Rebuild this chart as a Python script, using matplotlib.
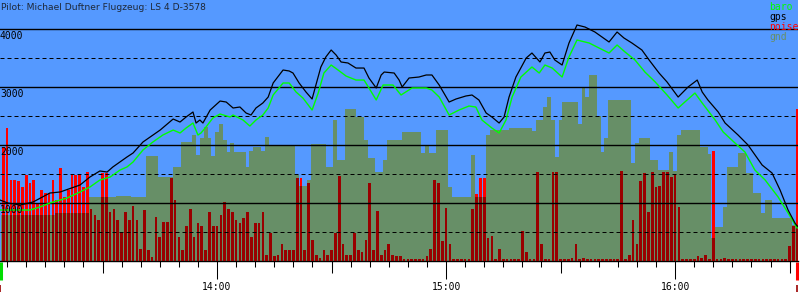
import numpy as np
import matplotlib
matplotlib.use('Agg')
import matplotlib.pyplot as plt
import matplotlib.transforms as mtransforms
from matplotlib.ticker import MultipleLocator, FuncFormatter

# time in minutes after 13:00
t_first = 3.14
t_last = 212.2

# ground height and engine noise, one value per minute from 13:04
gnd = [800, 800, 800, 800, 800, 800, 800, 800, 800, 800,
       800, 800, 800, 800, 820, 830, 830, 830, 830, 830,
       830, 830, 830, 1100, 1100, 1100, 1100, 1100, 1100, 1100,
       1120, 1120, 1120, 1120, 1100, 1100, 1100, 1100, 1810, 1810,
       1810, 1450, 1450, 1450, 1450, 1620, 1620, 2050, 2050, 2050,
       2170, 1830, 2120, 2310, 2120, 1810, 2220, 2360, 2090, 1880,
       2030, 1880, 1880, 1880, 1620, 1900, 1960, 1960, 1900, 2140,
       2000, 2000, 2000, 2000, 2000, 2000, 2000, 1480, 1300, 1300,
       1400, 2020, 2020, 2020, 2020, 1620, 1620, 2430, 1740, 1740,
       2620, 2620, 2620, 2480, 2480, 2090, 1780, 1780, 1530, 1530,
       1740, 2090, 2090, 2090, 2090, 2220, 2220, 2220, 2220, 2220,
       1860, 2000, 1860, 1860, 2260, 2260, 2260, 1280, 1100, 1100,
       1100, 1100, 1100, 1830, 1100, 1100, 1100, 2170, 2260, 2260,
       2260, 2260, 2260, 2290, 2290, 2290, 2290, 2290, 2290, 2250,
       2430, 2430, 2650, 2830, 2430, 1790, 2430, 2740, 2740, 2740,
       2740, 2370, 3000, 2830, 3210, 3210, 2500, 1880, 2120, 2780,
       2780, 2780, 2780, 2780, 2780, 1690, 2040, 2120, 2120, 2120,
       1740, 1740, 1570, 1570, 1570, 1880, 1550, 2170, 2260, 2260,
       2260, 2260, 2260, 1970, 1970, 1850, 400, 590, 590, 930,
       1620, 1620, 1620, 1860, 1860, 1520, 1520, 1170, 1170, 830,
       1050, 1050, 740, 740, 740, 740, 740, 620, 620]

noise = [1970, 2290, 1400, 1400, 1380, 1280, 1480, 1340, 1400, 1000,
         1220, 1170, 1170, 1400, 1050, 1600, 1100, 1220, 1480, 1480,
         1480, 1280, 1540, 900, 800, 700, 1520, 1520, 850, 900,
         700, 500, 850, 700, 950, 700, 200, 880, 190, 75,
         760, 420, 670, 670, 1430, 1050, 420, 190, 610, 900,
         420, 650, 610, 190, 850, 600, 610, 800, 1020, 900,
         850, 700, 650, 750, 850, 420, 650, 650, 850, 100,
         480, 80, 100, 300, 190, 190, 190, 1430, 1430, 190,
         1340, 360, 100, 50, 190, 100, 190, 480, 1460, 300,
         100, 100, 480, 190, 150, 360, 1340, 190, 860, 100,
         190, 300, 100, 80, 80, 30, 30, 30, 30, 30,
         30, 80, 200, 1400, 1350, 350, 920, 300, 30, 30,
         30, 30, 30, 900, 1150, 1430, 1430, 400, 430, 30,
         200, 30, 30, 30, 30, 30, 520, 150, 30, 30,
         1540, 300, 30, 30, 1540, 1540, 30, 30, 30, 50,
         290, 30, 60, 30, 30, 30, 30, 30, 30, 30,
         30, 30, 1560, 30, 100, 700, 290, 1380, 1520, 850,
         1540, 1270, 1300, 1540, 1540, 1440, 1480, 930, 30, 30,
         30, 30, 80, 60, 100, 30, 1900, 30, 30, 60,
         30, 30, 30, 30, 30, 30, 30, 30, 30, 30,
         30, 30, 30, 30, 30, 30, 260, 610, 2620]

gps_t = [3.1, 5.2, 8.4, 11.8, 16.2, 18.9, 24.1, 26.7, 29.3, 31.2, 32.7, 36.4, 38.0,
         40.6, 45.1, 48.5, 50.3, 51.9, 53.7, 54.5, 55.5, 56.3, 58.2, 60.8, 62.4,
         64.2, 66.0, 67.6, 68.9, 70.2, 72.0, 73.4, 74.7, 77.3, 78.9, 79.9, 81.5,
         83.3, 84.9, 85.9, 87.2, 88.5, 89.9, 91.2, 92.5, 94.3, 96.4, 98.5, 99.8,
         101.7, 103.0, 103.8, 106.4, 107.7, 108.5, 110.3, 112.9, 114.8, 116.3,
         118.2, 120.8, 122.6, 125.2, 126.8, 128.6, 130.5, 132.0, 133.9, 135.2,
         136.5, 138.3, 141.0, 142.5, 144.6, 145.9, 147.2, 148.5, 150.4, 152.2,
         154.3, 156.4, 159.0, 162.7, 164.8, 166.6, 168.7, 171.3, 173.2, 175.8,
         177.9, 180.8, 183.4, 185.8, 187.1, 188.6, 191.3, 193.1, 196.5, 199.1,
         202.8, 205.4, 207.5, 209.6, 211.4, 212.0]
gps_alt = [1052, 1000, 965, 1017, 1172, 1190, 1310, 1448, 1552, 1534, 1621, 1793, 1862,
           2052, 2258, 2448, 2396, 2483, 2569, 2379, 2431, 2379, 2603, 2758, 2741,
           2638, 2655, 2552, 2517, 2638, 2724, 2827, 3069, 3293, 3276, 3241, 3069,
           2914, 2793, 3034, 3345, 3517, 3638, 3551, 3431, 3414, 3327, 3327, 3155,
           2983, 3207, 3258, 3241, 3120, 3000, 3155, 3172, 3207, 3207,
           3034, 2741, 2793, 2845, 2862, 2776, 2552, 2483, 2379, 2483,
           2827, 3172, 3500, 3586, 3431, 3586, 3603, 3465, 3379, 3758,
           4069, 4034, 3948, 3776, 3948, 3845, 3758, 3638, 3465, 3241,
           3086, 2827, 3000, 3120, 2914, 2776, 2569, 2379, 2172, 2000,
           1655, 1517, 1224, 879, 655, 600]

baro_t = [3.1, 11.0, 13.6, 16.2, 20.7, 24.1, 26.7, 29.3, 32.0, 34.6, 36.4, 38.0,
          40.6, 43.2, 45.8, 48.5, 50.3, 51.9, 53.7, 55.0, 55.8, 57.1, 58.9, 60.8,
          63.4, 64.2, 66.8, 68.6, 70.2, 72.0, 73.4, 74.7, 77.3, 78.9, 80.7, 82.5,
          84.9, 86.5, 88.0, 89.9, 91.7, 93.8, 96.4, 98.5, 99.8, 101.7, 103.5, 106.1,
          108.2, 111.1, 114.8, 116.3, 118.2, 120.8, 123.4, 126.0, 127.8, 129.4,
          132.0, 133.9, 135.7, 137.3, 139.6, 142.5, 144.4, 145.9, 147.8, 150.4,
          152.2, 154.3, 157.5, 160.1, 162.7, 164.8, 166.9, 169.5, 172.1, 174.8,
          177.9, 180.8, 185.2, 187.1, 190.5, 192.6, 195.7, 198.3, 200.9, 203.6,
          207.0, 209.6, 212.0]
baro_alt = [879, 879, 931, 1000, 1086, 1190, 1276, 1396, 1448, 1569, 1621, 1707,
            1914, 2052, 2172, 2258, 2207, 2293, 2379, 2172, 2207, 2310, 2465, 2534,
            2483, 2517, 2431, 2327, 2431, 2517, 2638, 2862, 3069, 3069, 2914, 2810,
            2603, 2896, 3241, 3379, 3293, 3189, 3120, 3120, 2983, 2776, 3034, 3034,
            2862, 2983, 2983, 2948, 2827, 2517, 2603, 2672, 2655, 2431,
            2293, 2207, 2431, 2827, 3172, 3345, 3241, 3379, 3327, 3172,
            3517, 3810, 3758, 3672, 3586, 3724, 3603, 3465, 3258, 3086,
            2862, 2638, 2896, 2724, 2431, 2224, 2034, 1879, 1569, 1396,
            1103, 828, 569]

title = 'Pilot: Michael Duftner Flugzeug: LS 4 D-3578'
legend_names = ['baro', 'gps', 'noise', 'gnd']
legend_colors = ['#00ff00', 'black', 'red', '#678f67']

minutes = np.arange(4, 4 + len(gnd))
gnd = np.array(gnd)
noise = np.array(noise)

mono = 'DejaVu Sans Mono'
fig = plt.figure(figsize=(8, 3), dpi=100)
ax = fig.add_axes([0, 39 / 300, 798 / 800, 261 / 300])
ax.set_facecolor('#5599ff')
ax.set_xlim(t_first, t_last)
ax.set_ylim(0, 4500)

ax.bar(minutes, gnd, width=1.02, color='#678f67', linewidth=0, antialiased=False, zorder=1)
ax.bar(minutes, noise, width=0.7, color='red', linewidth=0, antialiased=False, zorder=2)
ax.bar(minutes, np.minimum(noise, gnd), width=0.7, color='#990000', linewidth=0,
       antialiased=False, zorder=3)

for v in range(500, 4500, 500):
    if v % 1000 == 0:
        ax.axhline(v, color='black', lw=1.0, zorder=4)
        ax.annotate(str(v), xy=(0, v), xycoords=('axes fraction', 'data'),
                    xytext=(0, -2), textcoords='offset pixels', ha='left', va='top',
                    family=mono, fontsize=7, zorder=7)
    else:
        ax.axhline(v, color='black', lw=0.72, ls=(0, (4, 3)), zorder=4)

ax.plot(baro_t, baro_alt, color='#00ff00', lw=1.0, zorder=5)
ax.plot(gps_t, gps_alt, color='black', lw=0.9, zorder=6)

for s in ['top', 'left', 'right']:
    ax.spines[s].set_visible(False)
ax.spines['bottom'].set_color('black')
ax.spines['bottom'].set_linewidth(1.0)
ax.set_yticks([])

ax.xaxis.set_major_locator(MultipleLocator(60))
ax.xaxis.set_minor_locator(MultipleLocator(5))
ax.xaxis.set_major_formatter(FuncFormatter(lambda m, p: '%d:%02d' % (13 + int(m) // 60, int(m) % 60)))
ax.tick_params(axis='x', which='major', length=13, width=0.75, pad=2, labelsize=7)
ax.tick_params(axis='x', which='minor', length=4.3, width=0.75)
for lab in ax.get_xticklabels():
    lab.set_family(mono)

sec = ax.secondary_xaxis('bottom')
sec.set_xticks([30, 90, 150, 210])
sec.tick_params(length=8.6, width=0.75, labelbottom=False)
sec.spines['bottom'].set_visible(False)

# start / end markers under the axis
trans = mtransforms.blended_transform_factory(ax.transData, ax.transAxes)
ax.vlines([t_first + 0.3], -0.073, -0.004, colors='#00dd00', lw=2.2, transform=trans, clip_on=False)
ax.vlines([t_first + 0.1], -0.119, -0.092, colors='#990000', lw=1.2, transform=trans, clip_on=False)
ax.vlines([t_last - 0.2], -0.073, -0.004, colors='red', lw=2.2, transform=trans, clip_on=False)
ax.vlines([t_last - 0.2], -0.119, -0.092, colors='#990000', lw=1.2, transform=trans, clip_on=False)

fig.text(0.001, 1 - 8 / 300, title, fontsize=6.6, color='#1e2838', va='center', ha='left',
         family='DejaVu Sans')
for k, (name, col) in enumerate(zip(legend_names, legend_colors)):
    fig.text(769 / 800, 1 - (7 + 10 * k) / 300, name, color=col, family=mono, fontsize=7,
             va='center', ha='left')

fig.savefig('out.png', dpi=100)
